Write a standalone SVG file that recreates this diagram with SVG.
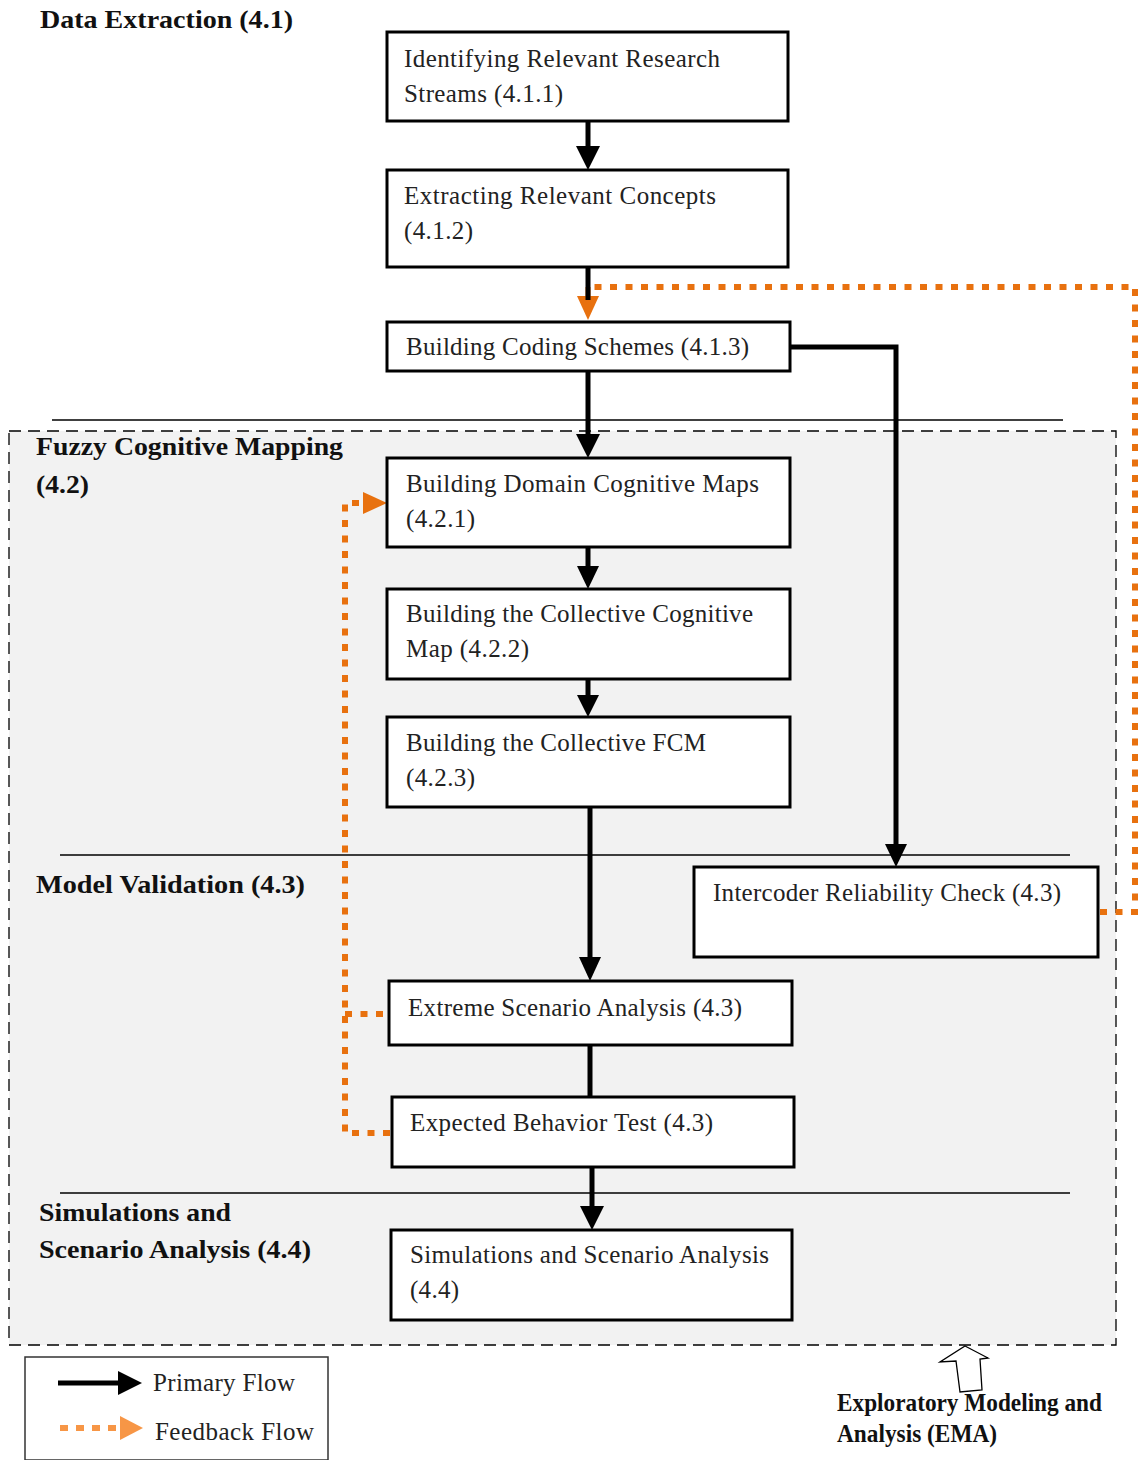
<svg xmlns="http://www.w3.org/2000/svg" width="1139" height="1460" viewBox="0 0 1139 1460">
  <style>
    .node { fill: #ffffff; stroke: #000000; stroke-width: 3; }
    .txt { font-family: "Liberation Serif", "Times New Roman", serif; font-size: 25px; fill: #222222; }
    .sec { font-family: "Liberation Serif", "Times New Roman", serif; font-size: 26px; font-weight: bold; fill: #111111; }
    .flow { fill: none; stroke: #000000; stroke-width: 5; }
    .fb { fill: none; stroke: #e8710f; stroke-width: 6; stroke-dasharray: 7 8.5; }
    .rule { stroke: #000000; stroke-width: 1.3; }
  </style>

  <rect width="1139" height="1460" fill="#ffffff"/>

  <!-- EMA region -->
  <rect x="9" y="431" width="1107" height="914" fill="#f2f2f2" stroke="#000000" stroke-width="1.3" stroke-dasharray="12 7"/>

  <!-- section separators -->
  <line class="rule" x1="52" y1="420" x2="1063" y2="420"/>
  <line class="rule" x1="60" y1="855" x2="1070" y2="855"/>
  <line class="rule" x1="60" y1="1193" x2="1070" y2="1193"/>

  <!-- section labels -->
  <text class="sec" x="40" y="28" textLength="253" lengthAdjust="spacingAndGlyphs">Data Extraction (4.1)</text>
  <text class="sec" x="36" y="455" textLength="307" lengthAdjust="spacingAndGlyphs">Fuzzy Cognitive Mapping</text>
  <text class="sec" x="36" y="493" textLength="53" lengthAdjust="spacingAndGlyphs">(4.2)</text>
  <text class="sec" x="36" y="893" textLength="269" lengthAdjust="spacingAndGlyphs">Model Validation (4.3)</text>
  <text class="sec" x="39" y="1221" textLength="192" lengthAdjust="spacingAndGlyphs">Simulations and</text>
  <text class="sec" x="39" y="1258" textLength="272" lengthAdjust="spacingAndGlyphs">Scenario Analysis (4.4)</text>

  <!-- connectors -->
  <g id="connectors">
    <!-- feedback flow -->
    <polyline class="fb" points="1100,912 1135,912 1135,287 592,287"/>
    <line x1="588" y1="287" x2="588" y2="298" stroke="#e8710f" stroke-width="5"/>
    <path d="M577,296 L599,296 L588,320 z" fill="#e8710f"/>
    <polyline class="fb" points="390,1133 345,1133 345,503 368,503"/>
    <line class="fb" x1="345" y1="1014" x2="390" y2="1014"/>
    <path d="M363,492 L387,503 L363,514 z" fill="#e8710f"/>

    <!-- primary flow -->
    <line class="flow" x1="588" y1="121" x2="588" y2="150"/>
    <path d="M576,146 L600,146 L588,170 z"/>
    <line class="flow" x1="588" y1="267" x2="588" y2="300"/>
    <line class="flow" x1="588" y1="371" x2="588" y2="436"/>
    <path d="M576,434 L600,434 L588,458 z"/>
    <line class="flow" x1="588" y1="547" x2="588" y2="568"/>
    <path d="M577,566 L599,566 L588,589 z"/>
    <line class="flow" x1="588" y1="679" x2="588" y2="698"/>
    <path d="M577,695 L599,695 L588,717 z"/>
    <line class="flow" x1="590" y1="807" x2="590" y2="960"/>
    <path d="M579,957 L601,957 L590,981 z"/>
    <line class="flow" x1="590" y1="1045" x2="590" y2="1097"/>
    <line class="flow" x1="592" y1="1167" x2="592" y2="1208"/>
    <path d="M580,1206 L604,1206 L592,1230 z"/>
    <polyline class="flow" points="790,347 896,347 896,846"/>
    <path d="M885,844 L907,844 L896,867 z"/>
  </g>

  <!-- nodes -->
  <g id="n411">
    <rect class="node" x="387" y="32" width="401" height="89"/>
    <text class="txt" x="404" y="67" textLength="316" lengthAdjust="spacing">Identifying Relevant Research</text>
    <text class="txt" x="404" y="102" textLength="159" lengthAdjust="spacing">Streams (4.1.1)</text>
  </g>
  <g id="n412">
    <rect class="node" x="387" y="170" width="401" height="97"/>
    <text class="txt" x="404" y="204" textLength="312" lengthAdjust="spacing">Extracting Relevant Concepts</text>
    <text class="txt" x="404" y="239" textLength="69" lengthAdjust="spacing">(4.1.2)</text>
  </g>
  <g id="n413">
    <rect class="node" x="387" y="322" width="403" height="49"/>
    <text class="txt" x="406" y="355" textLength="343" lengthAdjust="spacing">Building Coding Schemes (4.1.3)</text>
  </g>
  <g id="n421">
    <rect class="node" x="387" y="458" width="403" height="89"/>
    <text class="txt" x="406" y="492" textLength="353" lengthAdjust="spacing">Building Domain Cognitive Maps</text>
    <text class="txt" x="406" y="527" textLength="69" lengthAdjust="spacing">(4.2.1)</text>
  </g>
  <g id="n422">
    <rect class="node" x="387" y="589" width="403" height="90"/>
    <text class="txt" x="406" y="622" textLength="347" lengthAdjust="spacing">Building the Collective Cognitive</text>
    <text class="txt" x="406" y="657" textLength="123" lengthAdjust="spacing">Map (4.2.2)</text>
  </g>
  <g id="n423">
    <rect class="node" x="387" y="717" width="403" height="90"/>
    <text class="txt" x="406" y="751" textLength="300" lengthAdjust="spacing">Building the Collective FCM</text>
    <text class="txt" x="406" y="786" textLength="69" lengthAdjust="spacing">(4.2.3)</text>
  </g>
  <g id="n43irc">
    <rect class="node" x="694" y="867" width="404" height="90"/>
    <text class="txt" x="713" y="901" textLength="348" lengthAdjust="spacing">Intercoder Reliability Check (4.3)</text>
  </g>
  <g id="n43esa">
    <rect class="node" x="389" y="981" width="403" height="64"/>
    <text class="txt" x="408" y="1016" textLength="334" lengthAdjust="spacing">Extreme Scenario Analysis (4.3)</text>
  </g>
  <g id="n43ebt">
    <rect class="node" x="392" y="1097" width="402" height="70"/>
    <text class="txt" x="410" y="1131" textLength="303" lengthAdjust="spacing">Expected Behavior Test (4.3)</text>
  </g>
  <g id="n44">
    <rect class="node" x="391" y="1230" width="401" height="90"/>
    <text class="txt" x="410" y="1263" textLength="359" lengthAdjust="spacing">Simulations and Scenario Analysis</text>
    <text class="txt" x="410" y="1298" textLength="49" lengthAdjust="spacing">(4.4)</text>
  </g>

  <!-- legend -->
  <g id="legend">
    <rect x="25" y="1357" width="303" height="103" fill="#ffffff" stroke="#333333" stroke-width="1.5"/>
    <line x1="58" y1="1383" x2="122" y2="1383" stroke="#000000" stroke-width="5"/>
    <path d="M118,1371 L142,1383 L118,1395 z" fill="#000000"/>
    <text class="txt" x="153" y="1391" textLength="142" lengthAdjust="spacing">Primary Flow</text>
    <line x1="60" y1="1428" x2="117" y2="1428" stroke="#f79646" stroke-width="6" stroke-dasharray="8 8"/>
    <path d="M120,1416 L143,1428 L120,1440 z" fill="#f79646"/>
    <text class="txt" x="155" y="1440" textLength="159" lengthAdjust="spacing">Feedback Flow</text>
  </g>

  <!-- EMA annotation -->
  <g id="ema">
    <path d="M965,1346 L988,1358 L980,1359 L982,1390 L960,1392 L956,1361 L940,1362 z" fill="#ffffff" stroke="#000000" stroke-width="1.3"/>
    <text class="sec" x="837" y="1411" font-size="24" textLength="265" lengthAdjust="spacingAndGlyphs">Exploratory Modeling and</text>
    <text class="sec" x="837" y="1442" font-size="24" textLength="160" lengthAdjust="spacingAndGlyphs">Analysis (EMA)</text>
  </g>
</svg>
